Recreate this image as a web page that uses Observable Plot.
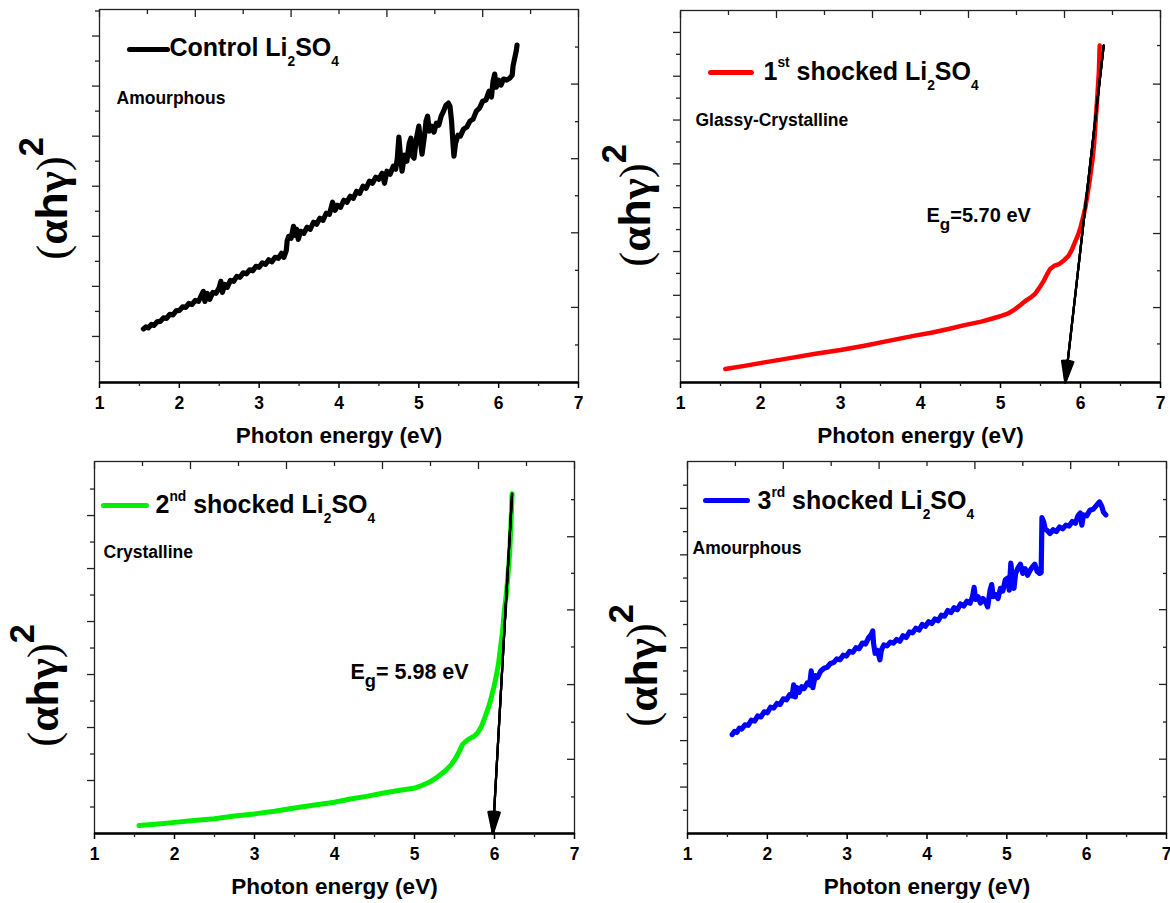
<!DOCTYPE html>
<html><head><meta charset="utf-8">
<script src="https://cdn.jsdelivr.net/npm/d3@7"></script>
<script src="https://cdn.jsdelivr.net/npm/@observablehq/plot@0.6"></script>
<style>
html,body{margin:0;padding:0;background:#fff;}
#wrap{position:relative;width:1170px;height:903px;overflow:hidden;background:#fff;}
#wrap svg{position:absolute;}
</style></head><body><div id="wrap"></div>
<script>
// ---------- data ----------
const xMajor = [1, 2, 3, 4, 5, 6, 7];
const xMinor = [1.5, 2.5, 3.5, 4.5, 5.5, 6.5];
const topMajor = [1, 2.2, 3.4, 4.6, 5.8, 7];
const topMinor = [1.6, 2.8, 4.0, 5.2, 6.4];

const xTitle = "Photon energy (eV)";
const yTitle = "(αhγ)^{2}";

const legends = ["Control Li_{2}SO_{4}", "1^{st} shocked Li_{2}SO_{4}", "2^{nd} shocked Li_{2}SO_{4}", "3^{rd} shocked Li_{2}SO_{4}"];
const notes = ["Amourphous", "Glassy-Crystalline", "Crystalline", "Amourphous"];
const colors = ["#000000", "#ff0000", "#00ee00", "#0000ff"];
const egLabels = [null, "E_{g}=5.70 eV", "E_{g}= 5.98 eV", null];

const control = [[1.55,1.15],[1.58,1.19],[1.61,1.17],[1.65,1.24],[1.68,1.22],[1.72,1.29],[1.76,1.30],[1.80,1.37],[1.84,1.36],[1.88,1.44],[1.92,1.43],[1.96,1.51],[2.00,1.52],[2.04,1.59],[2.08,1.58],[2.12,1.66],[2.16,1.64],[2.20,1.72],[2.24,1.70],[2.27,1.80],[2.30,1.90],[2.32,1.70],[2.35,1.86],[2.38,1.74],[2.42,1.88],[2.46,1.86],[2.50,1.98],[2.52,2.10],[2.54,1.88],[2.57,2.04],[2.60,1.98],[2.64,2.12],[2.68,2.10],[2.72,2.20],[2.76,2.18],[2.80,2.27],[2.84,2.25],[2.88,2.33],[2.92,2.31],[2.96,2.40],[3.00,2.38],[3.04,2.47],[3.08,2.44],[3.12,2.53],[3.16,2.49],[3.20,2.58],[3.24,2.56],[3.28,2.66],[3.31,2.58],[3.34,2.72],[3.35,2.90],[3.37,3.00],[3.40,2.96],[3.43,3.20],[3.45,3.02],[3.47,3.14],[3.49,2.94],[3.52,3.10],[3.56,3.06],[3.60,3.18],[3.64,3.14],[3.68,3.28],[3.72,3.24],[3.76,3.36],[3.80,3.32],[3.84,3.46],[3.88,3.44],[3.92,3.68],[3.95,3.52],[3.98,3.62],[4.02,3.58],[4.06,3.72],[4.10,3.68],[4.14,3.80],[4.18,3.76],[4.22,3.90],[4.26,3.86],[4.30,4.00],[4.34,3.96],[4.38,4.10],[4.42,4.06],[4.46,4.18],[4.50,4.14],[4.54,4.26],[4.57,4.06],[4.60,4.30],[4.64,4.24],[4.68,4.40],[4.71,4.34],[4.73,4.55],[4.75,4.98],[4.77,4.60],[4.79,4.30],[4.82,4.62],[4.85,4.50],[4.88,4.86],[4.90,4.96],[4.92,4.60],[4.94,4.56],[4.97,4.96],[5.00,5.20],[5.02,4.90],[5.04,4.64],[5.07,5.00],[5.09,5.30],[5.11,5.40],[5.13,5.10],[5.16,5.20],[5.19,5.08],[5.22,5.26],[5.25,5.22],[5.28,5.40],[5.31,5.50],[5.34,5.62],[5.37,5.66],[5.39,5.60],[5.41,5.30],[5.43,4.80],[5.44,4.60],[5.46,4.86],[5.49,5.02],[5.52,5.00],[5.56,5.14],[5.60,5.18],[5.64,5.30],[5.68,5.34],[5.72,5.50],[5.76,5.56],[5.80,5.70],[5.84,5.72],[5.88,5.90],[5.91,5.78],[5.93,6.10],[5.95,6.24],[5.97,5.98],[6.00,6.12],[6.03,6.02],[6.06,6.14],[6.10,6.12],[6.14,6.16],[6.17,6.22],[6.18,6.40],[6.20,6.55],[6.22,6.70],[6.23,6.82]];

const shock1 = [[1.56,0.32],[1.8,0.39],[2.05,0.47],[2.35,0.56],[2.67,0.66],[3.0,0.75],[3.3,0.85],[3.6,0.96],[3.93,1.08],[4.15,1.15],[4.35,1.23],[4.55,1.32],[4.76,1.40],[4.9,1.47],[5.01,1.53],[5.1,1.59],[5.18,1.68],[5.25,1.78],[5.31,1.87],[5.37,1.94],[5.43,2.03],[5.49,2.18],[5.54,2.33],[5.58,2.47],[5.62,2.60],[5.67,2.67],[5.73,2.71],[5.79,2.79],[5.85,2.90],[5.89,3.03],[5.93,3.21],[5.97,3.38],[6.00,3.55],[6.03,3.76],[6.06,4.00],[6.09,4.33],[6.12,4.69],[6.15,5.10],[6.17,5.45],[6.19,6.0],[6.21,6.52],[6.23,7.1],[6.24,7.70]];

const shock2 = [[1.555,0.15],[1.8,0.18],[2.0,0.21],[2.24,0.245],[2.5,0.28],[2.75,0.33],[3.0,0.37],[3.25,0.42],[3.5,0.48],[3.71,0.53],[4.0,0.59],[4.2,0.65],[4.4,0.70],[4.6,0.76],[4.8,0.81],[5.01,0.86],[5.1,0.91],[5.2,0.98],[5.3,1.08],[5.39,1.19],[5.46,1.30],[5.51,1.41],[5.56,1.55],[5.60,1.68],[5.65,1.75],[5.69,1.79],[5.75,1.84],[5.79,1.90],[5.84,2.03],[5.88,2.19],[5.92,2.36],[5.95,2.51],[5.99,2.75],[6.02,2.95],[6.05,3.20],[6.07,3.45],[6.10,3.80],[6.12,4.15],[6.15,4.55],[6.17,4.90],[6.19,5.30],[6.20,5.65],[6.21,6.0],[6.22,6.41]];

const shock3 = [[1.56,2.13],[1.59,2.20],[1.62,2.18],[1.65,2.27],[1.68,2.25],[1.72,2.34],[1.76,2.33],[1.80,2.44],[1.84,2.42],[1.88,2.53],[1.92,2.51],[1.96,2.62],[2.00,2.60],[2.04,2.72],[2.08,2.70],[2.12,2.80],[2.16,2.78],[2.20,2.90],[2.24,2.88],[2.28,2.99],[2.31,2.96],[2.33,3.20],[2.35,2.94],[2.37,3.14],[2.40,3.04],[2.43,3.16],[2.46,3.12],[2.50,3.24],[2.53,3.20],[2.55,3.50],[2.57,3.14],[2.60,3.40],[2.63,3.36],[2.67,3.50],[2.71,3.56],[2.75,3.58],[2.79,3.66],[2.83,3.68],[2.87,3.76],[2.91,3.74],[2.95,3.84],[2.99,3.82],[3.03,3.92],[3.07,3.90],[3.11,4.00],[3.15,3.98],[3.19,4.10],[3.23,4.08],[3.27,4.22],[3.30,4.28],[3.32,4.36],[3.33,4.10],[3.35,3.88],[3.38,3.94],[3.41,3.74],[3.43,3.96],[3.46,4.06],[3.50,4.04],[3.54,4.12],[3.58,4.10],[3.62,4.18],[3.66,4.14],[3.70,4.26],[3.74,4.22],[3.78,4.34],[3.82,4.32],[3.86,4.42],[3.90,4.38],[3.94,4.50],[3.98,4.46],[4.02,4.56],[4.06,4.52],[4.10,4.62],[4.14,4.58],[4.18,4.70],[4.22,4.68],[4.26,4.80],[4.30,4.76],[4.34,4.86],[4.38,4.82],[4.42,4.94],[4.46,4.90],[4.50,5.00],[4.54,4.96],[4.57,5.10],[4.59,5.30],[4.61,5.04],[4.64,5.10],[4.67,4.96],[4.70,5.06],[4.73,5.00],[4.76,4.88],[4.79,5.24],[4.81,5.36],[4.83,5.10],[4.86,5.14],[4.89,5.06],[4.92,5.28],[4.95,5.22],[4.98,5.46],[5.01,5.50],[5.03,5.24],[5.05,5.82],[5.07,5.50],[5.09,5.28],[5.11,5.60],[5.14,5.72],[5.17,5.80],[5.20,5.60],[5.23,5.70],[5.26,5.56],[5.29,5.66],[5.32,5.74],[5.35,5.80],[5.38,5.64],[5.41,5.60],[5.43,5.62],[5.44,6.80],[5.46,6.72],[5.48,6.56],[5.51,6.52],[5.54,6.46],[5.58,6.54],[5.62,6.50],[5.66,6.60],[5.70,6.56],[5.74,6.64],[5.78,6.62],[5.82,6.72],[5.86,6.68],[5.89,6.84],[5.92,6.90],[5.94,6.64],[5.96,6.86],[6.00,6.84],[6.04,6.96],[6.08,6.98],[6.12,7.06],[6.16,7.14],[6.19,7.04],[6.21,6.92],[6.24,6.86]];

const arrow1 = {x1: 6.29, y1: 7.70, x2: 5.81, y2: 0.01};
const arrow2 = {x1: 6.22, y1: 6.41, x2: 5.98, y2: 0.0};

const yDomains = [[0.08, 7.53], [0.01, 8.5], [0, 7.02], [0, 8.01]];
const leftMajor = [[1,2,3,4,5,6,7], [1,2,3,4,5,6,7,8], [1,2,3,4,5,6], [1,2,3,4,5,6,7]];
const leftMinor = [[0.5,1.5,2.5,3.5,4.5,5.5,6.5,7.5], [0.5,1.5,2.5,3.5,4.5,5.5,6.5,7.5], [0.5,1.5,2.5,3.5,4.5,5.5,6.5], [0.5,1.5,2.5,3.5,4.5,5.5,6.5,7.5]];
const rightMajor = [[1.58,3.07,4.55,6.04], [1.72,3.41,5.09,6.82], [1.40,2.81,4.22,5.60], [1.60,3.21,4.82,6.39]];
const rightMinor = [[0.83,2.32,3.81,5.29,6.78], [0.89,2.56,4.25,5.95,7.70], [0.69,2.10,3.52,4.91,6.30], [0.79,2.40,4.01,5.60,7.19]];

// ---------- layout ----------
const series = [control, shock1, shock2, shock3];
const arrows = [null, arrow1, arrow2, null];
const layout = [
  {left: 0,   top: 0,   w: 585, h: 451, m: [9, 7, 69, 99],  lw: 5.2, ylab: [-33, 2.5], sw: [30, 40, 38], lg: [70, 46], nt: [17, 94],  eg: null},
  {left: 585, top: 0,   w: 585, h: 451, m: [10, 10, 69, 95], lw: 4.5, ylab: [-31, 9],   sw: [30, 62, 41], lg: [83, 69], nt: [15, 115], eg: [246, 211]},
  {left: 0,   top: 451, w: 585, h: 452, m: [10, 11, 70, 94], lw: 5,   ylab: [-37, 38],  sw: [9, 44, 43],  lg: [61, 51.5], nt: [9, 96.5], eg: [256, 217]},
  {left: 585, top: 451, w: 585, h: 452, m: [10, 4, 70, 102], lw: 5.2, ylab: [-31, 18],  sw: [18, 39, 42], lg: [70, 47.5], nt: [5, 92.5], eg: null}
];

const lineShape = {draw(ctx, l) { ctx.moveTo(0, 0); ctx.lineTo(0, -l); }};
const noLabel = () => "";

function rich(el) {
  const s = el.textContent;
  if (!/[_^]\{|[αγ]/.test(s)) return;
  const fs = parseFloat(getComputedStyle(el).fontSize);
  const isEg = s.startsWith("E_");
  const isY = /[αγ]/.test(s);
  el.textContent = "";
  let shift = 0;
  const add = (txt, attrs) => {
    const t = document.createElementNS("http://www.w3.org/2000/svg", "tspan");
    for (const k in attrs) t.setAttribute(k, attrs[k]);
    t.textContent = txt;
    el.appendChild(t);
  };
  for (const m of s.matchAll(/([_^])\{([^}]*)\}|([^_^]+)/g)) {
    if (m[1]) {
      const sub = m[1] === "_";
      const scale = isEg ? 0.85 : isY ? 0.76 : 0.55;
      const target = sub ? 0.4 * fs : -(isY ? 0.52 : 0.5) * fs;
      add(m[2], {"font-size": fs * scale, dy: target - shift});
      shift = target;
    } else {
      const runs = isY ? m[3].match(/[αγ]+|[()]+|[^αγ()]+/g) : [m[3]];
      let first = true;
      for (const run of runs) {
        const attrs = {};
        if (first && shift) { attrs.dy = -shift; shift = 0; }
        first = false;
        if (isY && /[()]/.test(run)) { attrs["font-family"] = "Liberation Serif, serif"; attrs["font-weight"] = "normal"; }
        if (isY && /[αγ]/.test(run)) { attrs["font-family"] = "Liberation Serif, serif"; attrs["font-weight"] = "bold"; }
        add(run, attrs);
      }
    }
  }
}

const wrap = document.getElementById("wrap");
for (let i = 0; i < 4; i++) {
  const L = layout[i];
  const tickOpts = {tickFormat: noLabel, label: null, stroke: "#222", strokeWidth: 1.3};
  const marks = [
    Plot.frame({stroke: "#222", strokeWidth: 1.3}),
    Plot.ruleY([yDomains[i][0]], {stroke: "black", strokeWidth: 2.4}),
    Plot.axisX(xMajor, {anchor: "bottom", tickSize: 6, tickPadding: 8, fontSize: 17.5, label: null, strokeWidth: 1.5}),
    Plot.axisX(xMinor, {anchor: "bottom", tickSize: 4, ...tickOpts}),
    Plot.axisX(topMajor, {anchor: "top", tickSize: -7, ...tickOpts}),
    Plot.axisX(topMinor, {anchor: "top", tickSize: -4, ...tickOpts}),
    Plot.axisY(leftMajor[i], {anchor: "left", tickSize: 7, ...tickOpts}),
    Plot.axisY(leftMinor[i], {anchor: "left", tickSize: 4, ...tickOpts}),
    Plot.axisY(rightMajor[i], {anchor: "right", tickSize: -8, ...tickOpts}),
    Plot.axisY(rightMinor[i], {anchor: "right", tickSize: -4, ...tickOpts}),
    Plot.line(series[i], {x: d => d[0], y: d => d[1], stroke: colors[i], strokeWidth: L.lw, strokeLinejoin: "round", strokeLinecap: "round"}),
    Plot.text([xTitle], {text: d => d, frameAnchor: "bottom", dy: 60, lineAnchor: "bottom", fontSize: 22.5}),
    Plot.text([yTitle], {text: d => d, frameAnchor: "left", dx: L.ylab[0], dy: L.ylab[1], rotate: -90, textAnchor: "middle", lineAnchor: "bottom", fontSize: 45}),
    Plot.vector([0], {frameAnchor: "top-left", dx: L.sw[0], dy: L.sw[1], length: L.sw[2], rotate: 90, anchor: "start", shape: lineShape, stroke: colors[i], strokeWidth: 5, strokeLinecap: "round"}),
    Plot.text([legends[i]], {text: d => d, frameAnchor: "top-left", dx: L.lg[0], dy: L.lg[1], textAnchor: "start", lineAnchor: "bottom", fontSize: 25}),
    Plot.text([notes[i]], {text: d => d, frameAnchor: "top-left", dx: L.nt[0], dy: L.nt[1], textAnchor: "start", lineAnchor: "bottom", fontSize: 17.5})
  ];
  if (arrows[i]) {
    for (const a of [30, 22, 14, 7]) {
      marks.push(Plot.arrow([arrows[i]], {x1: "x1", y1: "y1", x2: "x2", y2: "y2", stroke: "black", strokeWidth: 2.2, headLength: 15, headAngle: a}));
    }
  }
  if (egLabels[i]) {
    marks.push(Plot.text([egLabels[i]], {text: d => d, frameAnchor: "top-left", dx: L.eg[0], dy: L.eg[1], textAnchor: "start", lineAnchor: "bottom", fontSize: i === 1 ? 20 : 21.5}));
  }
  const svg = Plot.plot({
    width: L.w, height: L.h,
    marginTop: L.m[0], marginRight: L.m[1], marginBottom: L.m[2], marginLeft: L.m[3],
    x: {domain: [1, 7], label: null},
    y: {domain: yDomains[i], label: null},
    style: {fontFamily: "'Liberation Sans', Arial, sans-serif", fontWeight: "bold", background: "white", color: "black", overflow: "visible"},
    marks
  });
  svg.style.left = L.left + "px";
  svg.style.top = L.top + "px";
  wrap.appendChild(svg);
  d3.select(svg).selectAll("text").each(function() { rich(this); });
}
</script></body></html>
